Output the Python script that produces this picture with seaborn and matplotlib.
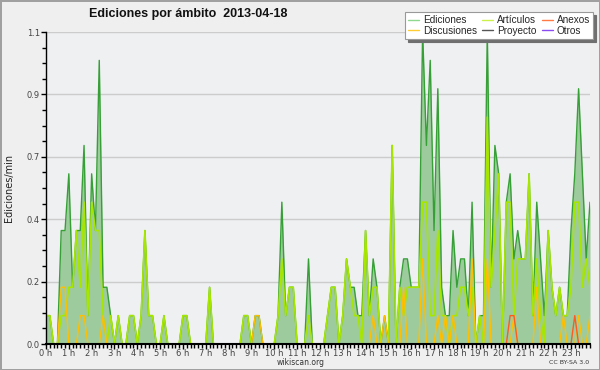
import numpy as np
import pandas as pd
import matplotlib
matplotlib.use("Agg")
import matplotlib.pyplot as plt
from matplotlib.lines import Line2D
from matplotlib.ticker import MultipleLocator
import seaborn as sns

sns.set_theme(style="white")
plt.rcParams['font.family'] = ['DejaVu Sans']

# one value per 10-minute slot (6 per hour, 24 hours)
hour_labels = [f"{h} h" for h in range(24)]

ediciones = [
    0.1, 0.1, 0.0, 0.0, 0.4, 0.4,   # 0 h
    0.6, 0.2, 0.4, 0.4, 0.7, 0.1,   # 1 h
    0.6, 0.4, 1.0, 0.2, 0.2, 0.1,   # 2 h
    0.0, 0.1, 0.0, 0.0, 0.1, 0.1,   # 3 h
    0.0, 0.1, 0.4, 0.1, 0.1, 0.0,   # 4 h
    0.0, 0.1, 0.0, 0.0, 0.0, 0.0,   # 5 h
    0.1, 0.1, 0.0, 0.0, 0.0, 0.0,   # 6 h
    0.0, 0.2, 0.0, 0.0, 0.0, 0.0,   # 7 h
    0.0, 0.0, 0.0, 0.0, 0.1, 0.1,   # 8 h
    0.0, 0.1, 0.1, 0.0, 0.0, 0.0,   # 9 h
    0.0, 0.1, 0.5, 0.1, 0.2, 0.2,   # 10 h
    0.0, 0.0, 0.0, 0.3, 0.0, 0.0,   # 11 h
    0.0, 0.0, 0.1, 0.2, 0.2, 0.0,   # 12 h
    0.1, 0.3, 0.2, 0.2, 0.1, 0.1,   # 13 h
    0.4, 0.1, 0.3, 0.2, 0.0, 0.1,   # 14 h
    0.0, 0.7, 0.0, 0.2, 0.3, 0.3,   # 15 h
    0.2, 0.2, 0.2, 1.1, 0.7, 1.0,   # 16 h
    0.4, 0.9, 0.2, 0.1, 0.1, 0.4,   # 17 h
    0.2, 0.3, 0.3, 0.1, 0.5, 0.0,   # 18 h
    0.1, 0.1, 1.1, 0.2, 0.7, 0.6,   # 19 h
    0.0, 0.5, 0.6, 0.3, 0.4, 0.3,   # 20 h
    0.3, 0.6, 0.1, 0.5, 0.3, 0.1,   # 21 h
    0.4, 0.2, 0.1, 0.2, 0.1, 0.1,   # 22 h
    0.4, 0.6, 0.9, 0.6, 0.3, 0.5,   # 23 h
]

articulos = [
    0.1, 0.1, 0.0, 0.0, 0.1, 0.1,
    0.2, 0.2, 0.4, 0.2, 0.5, 0.1,
    0.5, 0.4, 0.4, 0.1, 0.0, 0.1,
    0.0, 0.1, 0.0, 0.0, 0.1, 0.1,
    0.0, 0.1, 0.4, 0.1, 0.1, 0.0,
    0.0, 0.1, 0.0, 0.0, 0.0, 0.0,
    0.1, 0.1, 0.0, 0.0, 0.0, 0.0,
    0.0, 0.2, 0.0, 0.0, 0.0, 0.0,
    0.0, 0.0, 0.0, 0.0, 0.1, 0.1,
    0.0, 0.0, 0.0, 0.0, 0.0, 0.0,
    0.0, 0.1, 0.3, 0.1, 0.2, 0.2,
    0.0, 0.0, 0.0, 0.1, 0.0, 0.0,
    0.0, 0.0, 0.1, 0.2, 0.2, 0.0,
    0.1, 0.3, 0.2, 0.1, 0.1, 0.0,
    0.4, 0.1, 0.2, 0.2, 0.0, 0.0,
    0.0, 0.7, 0.0, 0.2, 0.1, 0.2,
    0.2, 0.2, 0.2, 0.5, 0.5, 0.1,
    0.1, 0.4, 0.1, 0.1, 0.0, 0.1,
    0.1, 0.2, 0.2, 0.1, 0.2, 0.0,
    0.1, 0.0, 0.8, 0.2, 0.4, 0.6,
    0.0, 0.5, 0.5, 0.1, 0.3, 0.3,
    0.3, 0.6, 0.1, 0.3, 0.1, 0.0,
    0.4, 0.2, 0.1, 0.2, 0.1, 0.1,
    0.2, 0.5, 0.5, 0.2, 0.3, 0.2,
]

discusiones = [
    0.0, 0.0, 0.0, 0.0, 0.2, 0.2,
    0.0, 0.0, 0.0, 0.1, 0.1, 0.0,
    0.0, 0.0, 0.0, 0.1, 0.0, 0.0,
    0.0, 0.0, 0.0, 0.0, 0.0, 0.0,
    0.0, 0.0, 0.0, 0.0, 0.0, 0.0,
    0.0, 0.0, 0.0, 0.0, 0.0, 0.0,
    0.0, 0.0, 0.0, 0.0, 0.0, 0.0,
    0.0, 0.0, 0.0, 0.0, 0.0, 0.0,
    0.0, 0.0, 0.0, 0.0, 0.0, 0.0,
    0.0, 0.1, 0.1, 0.0, 0.0, 0.0,
    0.0, 0.0, 0.0, 0.0, 0.0, 0.0,
    0.0, 0.0, 0.0, 0.0, 0.0, 0.0,
    0.0, 0.0, 0.0, 0.0, 0.0, 0.0,
    0.0, 0.0, 0.0, 0.0, 0.0, 0.0,
    0.0, 0.0, 0.1, 0.0, 0.0, 0.1,
    0.0, 0.0, 0.0, 0.0, 0.2, 0.0,
    0.0, 0.0, 0.0, 0.3, 0.0, 0.0,
    0.0, 0.1, 0.0, 0.1, 0.0, 0.1,
    0.0, 0.0, 0.0, 0.0, 0.3, 0.0,
    0.0, 0.0, 0.3, 0.0, 0.0, 0.0,
    0.0, 0.0, 0.0, 0.1, 0.0, 0.0,
    0.0, 0.0, 0.0, 0.2, 0.0, 0.0,
    0.0, 0.0, 0.0, 0.0, 0.1, 0.0,
    0.0, 0.0, 0.1, 0.0, 0.0, 0.1,
]

anexos = [0.0] * 144
anexos[122] = 0.1
anexos[123] = 0.1
anexos[139] = 0.1

proyecto = [0.0] * 144
otros = [0.0] * 144

df = pd.DataFrame({
    "slot": np.arange(144),
    "Ediciones": ediciones,
    "Artículos": articulos,
    "Discusiones": discusiones,
    "Anexos": anexos,
    "Proyecto": proyecto,
    "Otros": otros,
})

fig = plt.figure(figsize=(6, 3.7), dpi=100)
fig.patch.set_facecolor('#efefef')
fig.patch.set_edgecolor('#a0a0a0')
fig.patch.set_linewidth(2)
ax = fig.add_axes([46 / 600, 1 - 344 / 370, 544 / 600, 312 / 370])
ax.set_facecolor('#eef0f2')

ax.fill_between(df["slot"], df["Ediciones"], color='#9ecb9e', lw=0, zorder=2)
sns.lineplot(data=df, x="slot", y="Ediciones", ax=ax, color='#36a036', lw=1, zorder=3)
sns.lineplot(data=df, x="slot", y="Proyecto", ax=ax, color='#555555', lw=1, zorder=2.5)
sns.lineplot(data=df, x="slot", y="Otros", ax=ax, color='#8844ee', lw=1, zorder=2.5)
sns.lineplot(data=df, x="slot", y="Artículos", ax=ax, color='#a6e600', lw=1.2, zorder=4)
sns.lineplot(data=df, x="slot", y="Discusiones", ax=ax, color='#ffbf00', lw=1, zorder=5)
sns.lineplot(data=df, x="slot", y="Anexos", ax=ax, color='#ff5a1f', lw=1, zorder=5)

ax.set_xlim(0, 143)
ax.set_ylim(0, 1.1)
ax.set_xticks(np.arange(0, 144, 6))
ax.set_xticklabels(hour_labels)
ax.xaxis.set_minor_locator(MultipleLocator(1))
yt = np.linspace(0, 1.1, 6)
ax.set_yticks(yt)
ax.set_yticklabels([f"{v:.1f}" for v in yt])
ax.yaxis.set_minor_locator(MultipleLocator(0.055))

ax.tick_params(which='both', bottom=True, left=True, direction='out', color='black', width=1)
ax.tick_params(axis='both', which='major', length=3.5, labelsize=6, labelcolor='#444444')
ax.tick_params(axis='x', which='major', pad=0)
ax.tick_params(axis='y', which='major', pad=1)
ax.tick_params(axis='both', which='minor', length=3)

ax.set_axisbelow(True)
ax.yaxis.grid(True, color='#cccccc', lw=1)
ax.xaxis.grid(False)
for s in ['top', 'right']:
    ax.spines[s].set_visible(False)
ax.spines['left'].set_color('black')
ax.spines['left'].set_linewidth(1)
ax.spines['bottom'].set_color('black')
ax.spines['bottom'].set_linewidth(1.5)
for s in ax.spines.values():
    s.set_zorder(10)

ax.set_xlabel('')
ax.set_ylabel('Ediciones/min', fontsize=7, color='#222222')
ax.yaxis.set_label_coords(-0.058, 0.5)

fig.text(188 / 600, 1 - 14 / 370, 'Ediciones por ámbito  2013-04-18',
         ha='center', va='center', fontsize=9, fontweight='bold',
         family=['Liberation Sans', 'DejaVu Sans'], color='#111111')
fig.text(301 / 600, 1 - 362.5 / 370, 'wikiscan.org', ha='center', va='center',
         fontsize=5.5, color='#333333')
fig.text(569 / 600, 1 - 362.5 / 370, 'CC BY-SA 3.0', ha='center', va='center',
         fontsize=4.5, color='#333333')

legend_colors = {
    "Ediciones": '#8fd88f', "Discusiones": '#ffcc33', "Artículos": '#ccf04a',
    "Proyecto": '#555555', "Anexos": '#ff7a45', "Otros": '#8a4cf0',
}
handles = [Line2D([], [], color=c, lw=1) for c in legend_colors.values()]
leg = fig.legend(handles, list(legend_colors.keys()), ncol=3, loc='upper right',
                 bbox_to_anchor=(593 / 600, 1 - 12 / 370), bbox_transform=fig.transFigure,
                 prop={'family': ['Liberation Sans', 'DejaVu Sans'], 'size': 7.2},
                 frameon=True, fancybox=False, framealpha=1,
                 shadow={'ox': 2.2, 'oy': -2.2, 'color': '#6f6f6f', 'alpha': 1},
                 borderpad=0.3, labelspacing=0.05, handlelength=1.1,
                 handletextpad=0.4, columnspacing=0.5, borderaxespad=0)
leg.get_frame().set_edgecolor('#999999')
leg.get_frame().set_linewidth(0.8)
leg.get_frame().set_facecolor('white')

fig.savefig('out.png', dpi=100, facecolor=fig.get_facecolor(), edgecolor=fig.get_edgecolor())
